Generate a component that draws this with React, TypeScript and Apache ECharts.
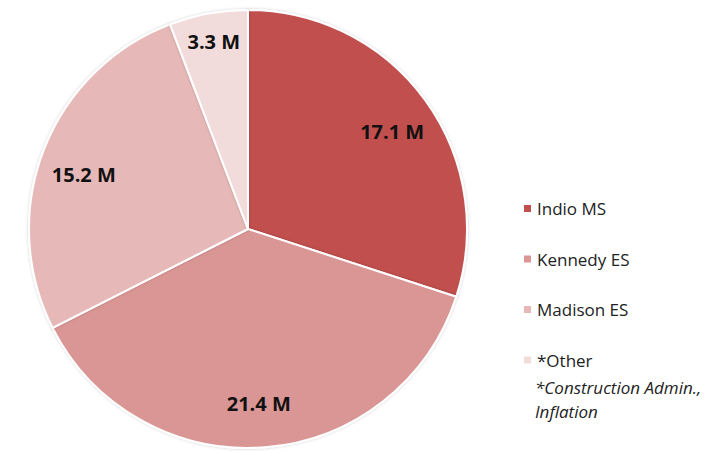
import React, { useEffect, useRef } from "react";
import * as echarts from "echarts";

const categories = ["Indio MS", "Kennedy ES", "Madison ES", "*Other"];
const values = [17.1, 21.4, 15.2, 3.3];
const colors = ["#C0504D", "#D99694", "#E6B9B8", "#F2DCDB"];
const noteLines = ["*Construction Admin.,", "Inflation"];
const labelNudges = [[0, 7], [-3, -3], [2, 10], [-2, -12]];

export default function App() {
  const ref = useRef<HTMLDivElement>(null);
  useEffect(() => {
    if (!ref.current) return;
    const chart = echarts.init(ref.current, undefined, { renderer: "svg" });
    const data = categories.map((name, i) => ({
      name,
      value: values[i],
      itemStyle: { color: colors[i] },
    }));
    const center = [248, 229];
    const R = 219;
    chart.setOption({
      animation: false,
      backgroundColor: "#ffffff",
      legend: {
        orient: "vertical",
        left: 517,
        top: 195,
        itemWidth: 9,
        itemHeight: 9,
        itemGap: 33.5,
        icon: "rect",
        data: categories,
        textStyle: { fontFamily: "Open Sans", fontSize: 17, color: "#222222" },
      },
      graphic: noteLines.map((t, i) => ({
        type: "text",
        left: 535,
        top: 379 + i * 24,
        style: {
          text: t,
          font: "italic 17px 'Open Sans'",
          fill: "#222222",
        },
      })),
      series: [
        {
          type: "pie",
          center,
          radius: [0, R],
          startAngle: 90,
          clockwise: true,
          data,
          label: { show: false },
          labelLine: { show: false },
          itemStyle: { borderColor: "#ffffff", borderWidth: 2, shadowBlur: 3, shadowColor: "rgba(0,0,0,0.2)" },
          silent: true,
        },
        {
          type: "pie",
          center,
          radius: [R * 0.6, R],
          startAngle: 90,
          clockwise: true,
          silent: true,
          data: categories.map((name, i) => ({
            name,
            value: values[i],
            label: { offset: labelNudges[i] },
          })),
          itemStyle: { color: "rgba(0,0,0,0)", borderWidth: 0 },
          label: {
            show: true,
            position: "inside",
            formatter: (p: any) => `${p.value} M`,
            fontFamily: "Open Sans",
            fontWeight: "bold",
            fontSize: 20,
            color: "#111111",
          },
          labelLine: { show: false },
        },
      ],
    });
    return () => chart.dispose();
  }, []);
  return (
    <div
      ref={ref}
      style={{ position: "fixed", left: 0, top: 0, width: 722, height: 452 }}
    />
  );
}
